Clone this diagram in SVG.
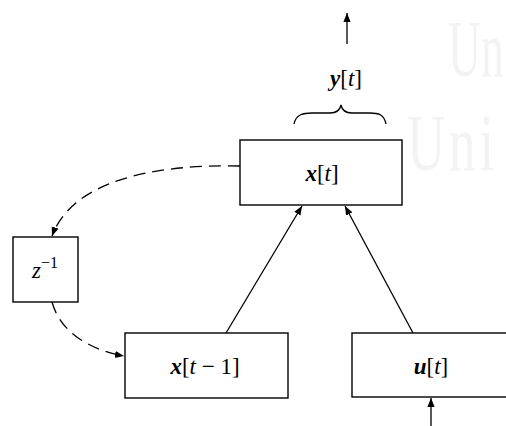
<svg xmlns="http://www.w3.org/2000/svg" width="506" height="426" viewBox="0 0 506 426">
<style>
.box{fill:#fff;stroke:#000;stroke-width:1.4}
.lbl{font-family:"Liberation Serif",serif;font-size:23px;text-anchor:middle;fill:#000}
.v{font-weight:bold;font-style:italic}
.it{font-style:italic}
.edge{fill:none;stroke:#000;stroke-width:1.3}
.dash{stroke-dasharray:12 7}
.wm{font-family:"Liberation Serif",serif;font-size:80px;fill:#f3f3f3}
</style>
<defs>
<marker id="ah" viewBox="0 0 10 10" refX="10" refY="5" markerWidth="9" markerHeight="9" markerUnits="userSpaceOnUse" orient="auto">
<path d="M0,1 L10,5 L0,9 Z" fill="#000"/>
</marker>
</defs>
<g transform="translate(448,76) scale(0.57,1)"><text class="wm" x="0" y="0">Un</text></g>
<g transform="translate(407,170) scale(0.66,1)"><text class="wm" x="0" y="0" letter-spacing="6">Uni</text></g>
<g id="edges">
<path class="edge" d="M347,44 L347,13" marker-end="url(#ah)"/>
<path class="edge" d="M226,333 L302,206" marker-end="url(#ah)"/>
<path class="edge" d="M413,333 L345,206" marker-end="url(#ah)"/>
<path class="edge" d="M431,426 L431,398" marker-end="url(#ah)"/>
<path class="edge dash" d="M240,166 C150,164 72,182 52,236" marker-end="url(#ah)"/>
<path class="edge dash" d="M52,302 C60,332 90,350 124,356" marker-end="url(#ah)"/>
<path class="edge" d="M294,124 C296,114 304,113 312,113 L330,113 C337,113 340,110 341,105 C342,110 345,113 352,113 L370,113 C378,113 384,114 386,124"/>
</g>
<text class="lbl" x="346" y="86"><tspan class="v">y</tspan>[<tspan class="it">t</tspan>]</text>
<g id="xt">
<rect class="box" x="240" y="140" width="162" height="65"/>
<text class="lbl" x="322" y="181"><tspan class="v">x</tspan>[<tspan class="it">t</tspan>]</text>
</g>
<g id="zinv">
<rect class="box" x="13" y="237" width="65" height="65"/>
<text class="lbl" x="45" y="278"><tspan class="it">z</tspan><tspan font-size="16" dy="-10">−1</tspan></text>
</g>
<g id="xtm1">
<rect class="box" x="125" y="333" width="163" height="65"/>
<text class="lbl" x="205" y="374"><tspan class="v">x</tspan>[<tspan class="it">t</tspan> − 1]</text>
</g>
<g id="ut">
<rect class="box" x="352" y="333" width="170" height="64"/>
<text class="lbl" x="431" y="374"><tspan class="v">u</tspan>[<tspan class="it">t</tspan>]</text>
</g>
</svg>
